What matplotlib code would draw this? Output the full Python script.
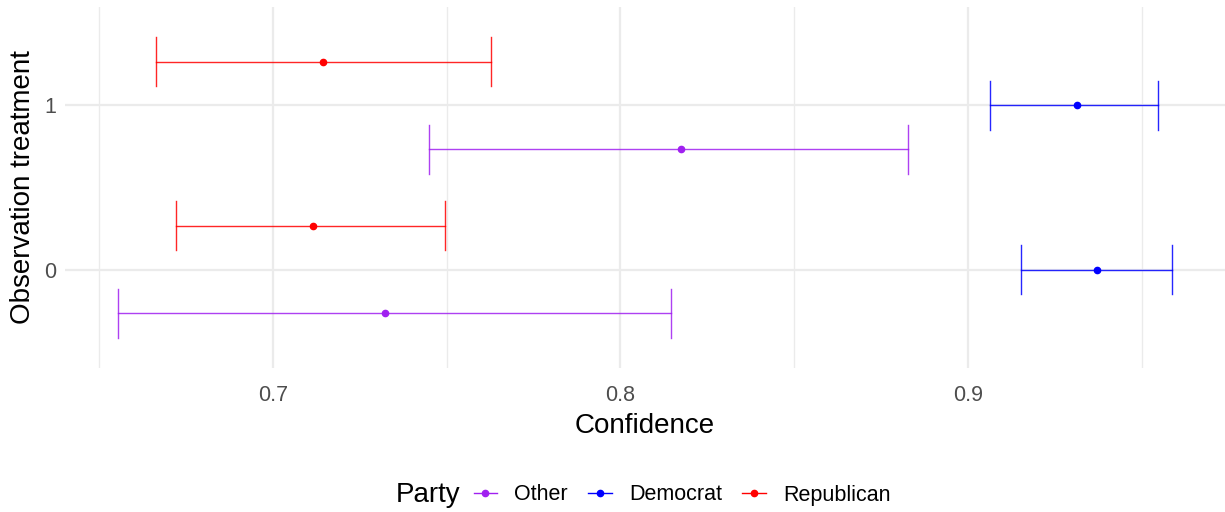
import numpy as np
import matplotlib.pyplot as plt
from matplotlib.lines import Line2D

plt.rcParams['font.family'] = ['Liberation Sans', 'DejaVu Sans']

# Data
parties = ['Other', 'Democrat', 'Republican']
colors = {'Other': '#A020F0', 'Democrat': '#0000FF', 'Republican': '#FF0000'}
treatments = [0, 1]

estimate = {
    'Other':      [0.7322, 0.8173],
    'Democrat':   [0.9371, 0.9314],
    'Republican': [0.7115, 0.7144],
}
lower = {
    'Other':      [0.6554, 0.7449],
    'Democrat':   [0.9153, 0.9063],
    'Republican': [0.6721, 0.6663],
}
upper = {
    'Other':      [0.8145, 0.8827],
    'Democrat':   [0.9587, 0.9547],
    'Republican': [0.7495, 0.7627],
}

fig = plt.figure(figsize=(12.25, 5.12), dpi=100)
ax = fig.add_axes([65 / 1225, 1 - 368 / 512, 1 - 65 / 1225, (368 - 7) / 512])

dodge = 0.8 / 3
cap = 0.15
for i, p in enumerate(parties):
    off = (i - 1) * dodge
    for j, t in enumerate(treatments):
        y = t + off
        c = colors[p]
        ax.plot([lower[p][j], upper[p][j]], [y, y], color=c, lw=1.0, alpha=0.85, zorder=3)
        for xv in (lower[p][j], upper[p][j]):
            ax.plot([xv, xv], [y - cap, y + cap], color=c, lw=1.0, alpha=0.85, zorder=3)
        ax.plot(estimate[p][j], y, 'o', color=c, ms=4.5, zorder=4)

# axis limits with ggplot-like expansion
xmin = min(min(v) for v in lower.values())
xmax = max(max(v) for v in upper.values())
pad = (xmax - xmin) * 0.05
ax.set_xlim(xmin - pad, xmax + pad)
ax.set_ylim(-0.6, 1.6)

ax.set_xticks([0.7, 0.8, 0.9])
ax.set_xticklabels(['0.7', '0.8', '0.9'])
ax.set_xticks([0.65, 0.75, 0.85, 0.95], minor=True)
ax.set_yticks(treatments)
ax.set_yticklabels(['0', '1'])

ax.grid(which='major', color='#EBEBEB', lw=1.6)
ax.grid(which='minor', axis='x', color='#EBEBEB', lw=1.0)
ax.set_axisbelow(True)
for s in ax.spines.values():
    s.set_visible(False)
ax.tick_params(which='both', length=0, labelsize=15.5, labelcolor='#4D4D4D')
ax.tick_params(axis='x', pad=12)
ax.tick_params(axis='y', pad=6)

ax.set_xlabel('Confidence', fontsize=20, color='black', labelpad=5)
ax.set_ylabel('Observation treatment', fontsize=20, color='black', labelpad=6)

handles = [Line2D([], [], color=colors[p], marker='o', ms=4.5, lw=1.0) for p in parties]
fig.text(428 / 1225, 1 - 495 / 512, 'Party', fontsize=20, va='center', ha='center')
fig.legend(handles, parties, loc='center', bbox_to_anchor=(682 / 1225, 1 - 495 / 512),
           ncol=3, frameon=False, fontsize=15.5, handlelength=1.1, handletextpad=0.8,
           columnspacing=0.93)

fig.savefig('out.png', dpi=100, facecolor='white')
